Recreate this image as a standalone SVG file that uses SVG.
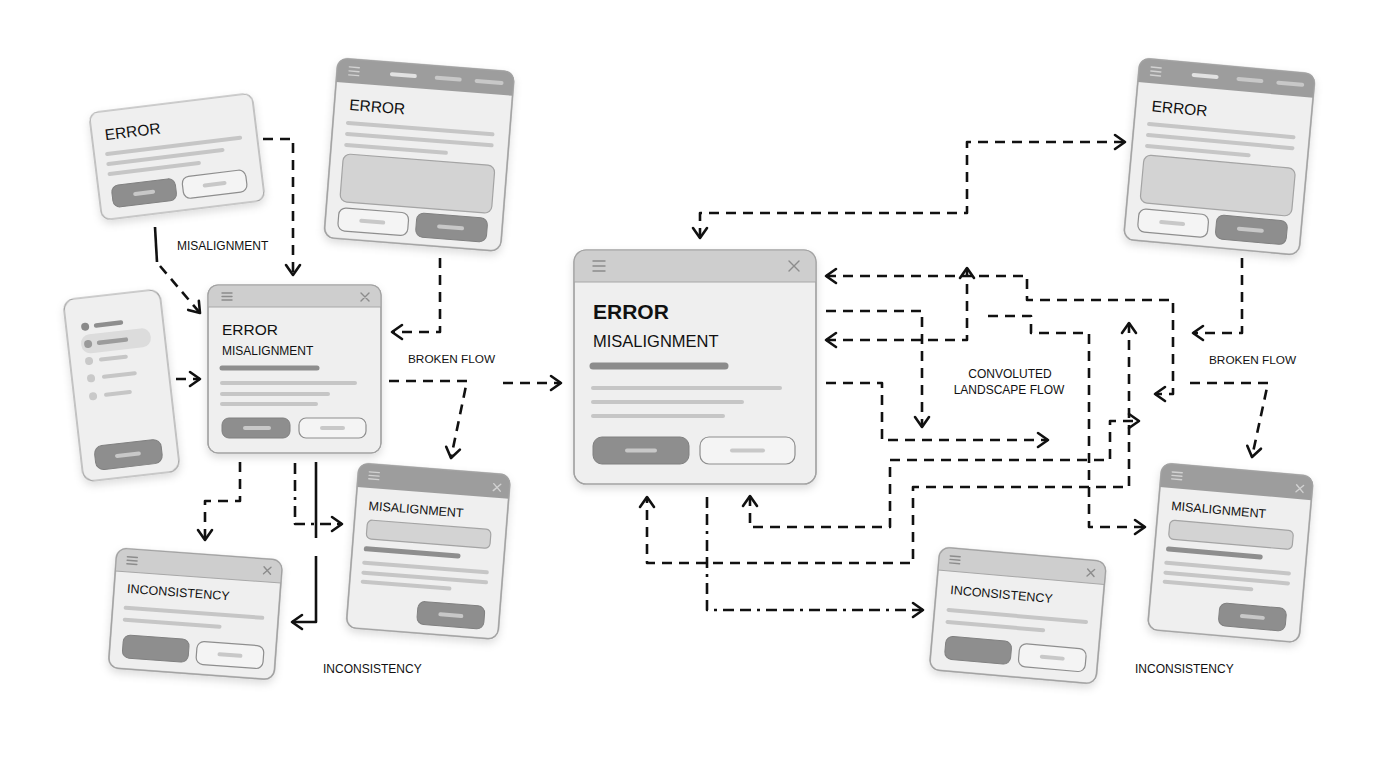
<svg xmlns="http://www.w3.org/2000/svg" width="1376" height="768" viewBox="0 0 1376 768">
<defs>
<style>
.card{fill:#efefef;stroke:#a2a2a2;stroke-width:1.2}
.outl{fill:none;stroke:#a2a2a2;stroke-width:1.2}
.hdrL{fill:#cecece}
.hdrD{fill:#9d9d9d}
.hsep{stroke:#a8a8a8;stroke-width:1}
.ln{stroke:#c6c6c6;stroke-width:4;stroke-linecap:round}
.lnD{stroke:#8e8e8e;stroke-width:5;stroke-linecap:round}
.btnD{fill:#8e8e8e;stroke:#808080;stroke-width:1}
.btnO{fill:#f4f4f4;stroke:#8e8e8e;stroke-width:1.2}
.pill{stroke:#c8c8c8;stroke-width:4;stroke-linecap:round}
.pillL{stroke:#e2e2e2;stroke-width:4;stroke-linecap:round}
.box{fill:#d3d3d3;stroke:#a4a4a4;stroke-width:1.2}
.ico{stroke:#8c8c8c;stroke-width:1.4;stroke-linecap:round;fill:none}
.icoL{stroke:#d2d2d2;stroke-width:1.4;stroke-linecap:round;fill:none}
.t{font-family:"Liberation Sans",Arial,sans-serif;fill:#111}
.conn{fill:none;stroke:#111;stroke-width:2.6;stroke-dasharray:10 7;stroke-linejoin:round}
.dd{stroke-dasharray:11 6 11 6 3 6}
.solid{stroke-dasharray:none}
</style>
<filter id="sh" x="-20%" y="-20%" width="140%" height="150%">
<feDropShadow dx="0" dy="4" stdDeviation="4" flood-color="#000" flood-opacity="0.14"/>
</filter>
<marker id="ah" viewBox="-13 -9 15 18" markerWidth="15" markerHeight="18" refX="0" refY="0" orient="auto-start-reverse" markerUnits="userSpaceOnUse">
<path d="M-10,-7 L0,0 L-10,7" fill="none" stroke="#111" stroke-width="2.6" stroke-linecap="round" stroke-linejoin="round"/>
</marker>
</defs>
<rect width="1376" height="768" fill="#ffffff"/>

<!-- Node 1: ERROR card -->
<g id="n1" transform="translate(89,113) rotate(-7)">
<rect class="card" width="164" height="108" rx="9" filter="url(#sh)"/>
<text class="t" x="13" y="29" font-size="15.5">ERROR</text>
<line class="ln" x1="13" y1="43" x2="147" y2="43"/>
<line class="ln" x1="13" y1="53" x2="128" y2="53"/>
<line class="ln" x1="13" y1="63" x2="103" y2="63"/>
<rect class="btnD" x="13" y="75" width="64" height="22" rx="7"/>
<line class="pill" x1="36" y1="86" x2="54" y2="86"/>
<rect class="btnO" x="84" y="75" width="64" height="22" rx="7"/>
<line class="pill" x1="106" y1="86" x2="126" y2="86"/>
</g>

<!-- Node 2: tall ERROR page -->
<g id="n2" transform="translate(338,58) rotate(4.5)">
<rect class="card" width="177" height="180" rx="10" filter="url(#sh)"/>
<path class="hdrD" d="M0,24 V10 Q0,0 10,0 H167 Q177,0 177,10 V24 Z"/>
<g class="icoL"><line x1="12" y1="8" x2="22" y2="8"/><line x1="12" y1="12" x2="22" y2="12"/><line x1="12" y1="16" x2="22" y2="16"/></g>
<line class="pillL" x1="55" y1="12" x2="78" y2="12"/>
<line class="pill" x1="100" y1="12" x2="123" y2="12"/>
<line class="pill" x1="140" y1="12" x2="165" y2="12"/>
<rect class="outl" width="177" height="180" rx="10"/>
<text class="t" x="15" y="51" font-size="15.5">ERROR</text>
<line class="ln" x1="15" y1="64" x2="160" y2="64"/>
<line class="ln" x1="15" y1="75" x2="160" y2="75"/>
<line class="ln" x1="15" y1="86" x2="115" y2="86"/>
<rect class="box" x="13" y="95" width="152" height="48" rx="7"/>
<rect class="btnO" x="13" y="149" width="70" height="23" rx="7"/>
<line class="pill" x1="36" y1="160.5" x2="58" y2="160.5"/>
<rect class="btnD" x="91" y="148" width="71" height="24" rx="7"/>
<line class="pill" x1="114" y1="160" x2="137" y2="160"/>
</g>

<!-- Node 3: phone -->
<g id="n3" transform="translate(63,300) rotate(-6.5)">
<rect class="card" width="97" height="183" rx="11" filter="url(#sh)"/>
<rect x="13" y="37" width="70" height="19" rx="9" fill="#dcdcdc"/>
<circle cx="19" cy="29" r="4" fill="#8a8a8a"/>
<circle cx="20" cy="46.5" r="4" fill="#9a9a9a"/>
<circle cx="19" cy="63.5" r="4" fill="#c9c9c9"/>
<circle cx="19" cy="81" r="4" fill="#c9c9c9"/>
<circle cx="19" cy="99" r="4" fill="#c9c9c9"/>
<line x1="30" y1="29" x2="55" y2="29" stroke="#8e8e8e" stroke-width="4.5" stroke-linecap="round"/>
<line x1="31" y1="46.5" x2="58" y2="46.5" stroke="#9c9c9c" stroke-width="4.5" stroke-linecap="round"/>
<line class="ln" x1="31" y1="63.5" x2="56" y2="63.5"/>
<line class="ln" x1="32" y1="81" x2="63" y2="81"/>
<line class="ln" x1="32" y1="99" x2="56" y2="99"/>
<rect class="btnD" x="14" y="149" width="67" height="24" rx="8"/>
<line class="pill" x1="36" y1="161" x2="58" y2="161"/>
</g>

<!-- Node 4: ERROR / MISALIGNMENT window -->
<g id="n4" transform="translate(208,285)">
<rect class="card" width="173" height="168" rx="10" filter="url(#sh)"/>
<path class="hdrL" d="M0,22 V10 Q0,0 10,0 H163 Q173,0 173,10 V22 Z"/>
<line class="hsep" x1="0" y1="22" x2="173" y2="22"/>
<g class="ico"><line x1="14" y1="8" x2="24" y2="8"/><line x1="14" y1="11.5" x2="24" y2="11.5"/><line x1="14" y1="15" x2="24" y2="15"/><path d="M153,8 L161,16 M161,8 L153,16"/></g>
<rect class="outl" width="173" height="168" rx="10"/>
<text class="t" x="14" y="50" font-size="15.5" font-weight="500">ERROR</text>
<text class="t" x="14" y="70" font-size="12">MISALIGNMENT</text>
<line class="lnD" x1="14" y1="83" x2="109" y2="83"/>
<line class="ln" x1="14" y1="98" x2="147" y2="98"/>
<line class="ln" x1="14" y1="109" x2="120" y2="109"/>
<line class="ln" x1="14" y1="119" x2="108" y2="119"/>
<rect class="btnD" x="14" y="133" width="68" height="20" rx="7"/>
<line class="pill" x1="37" y1="143" x2="61" y2="143"/>
<rect class="btnO" x="91" y="133" width="67" height="20" rx="7"/>
<line class="pill" x1="114" y1="143" x2="135" y2="143"/>
</g>

<!-- Node 5: MISALIGNMENT window (left) -->
<g id="n5" transform="translate(359,463) rotate(4.5)">
<rect class="card" width="152" height="165" rx="10" filter="url(#sh)"/>
<path class="hdrD" d="M0,24 V10 Q0,0 10,0 H142 Q152,0 152,10 V24 Z"/>
<g class="icoL"><line x1="11" y1="8" x2="21" y2="8"/><line x1="11" y1="11.5" x2="21" y2="11.5"/><line x1="11" y1="15" x2="21" y2="15"/><path d="M136,10 L143,17 M143,10 L136,17"/></g>
<rect class="outl" width="152" height="165" rx="10"/>
<text class="t" x="13" y="46" font-size="12.5">MISALIGNMENT</text>
<rect class="box" x="13" y="56" width="124" height="19" rx="5"/>
<line class="lnD" x1="14" y1="85" x2="106" y2="85"/>
<line class="ln" x1="13" y1="99" x2="136" y2="99"/>
<line class="ln" x1="13" y1="109" x2="136" y2="109"/>
<line class="ln" x1="13" y1="118" x2="100" y2="118"/>
<rect class="btnD" x="70" y="133" width="67" height="23" rx="7"/>
<line class="pill" x1="93" y1="144.5" x2="114" y2="144.5"/>
</g>

<!-- Node 6: INCONSISTENCY window (left) -->
<g id="n6" transform="translate(117,548) rotate(4.2)">
<rect class="card" width="166" height="120" rx="10" filter="url(#sh)"/>
<path class="hdrL" d="M0,23 V10 Q0,0 10,0 H156 Q166,0 166,10 V23 Z"/>
<line class="hsep" x1="0" y1="23" x2="166" y2="23"/>
<g class="ico"><line x1="11" y1="8" x2="21" y2="8"/><line x1="11" y1="11.5" x2="21" y2="11.5"/><line x1="11" y1="15" x2="21" y2="15"/><path d="M148,8 L155,15 M155,8 L148,15"/></g>
<rect class="outl" width="166" height="120" rx="10"/>
<text class="t" x="13" y="44" font-size="12.5">INCONSISTENCY</text>
<line class="ln" x1="13" y1="59" x2="150" y2="59"/>
<line class="ln" x1="13" y1="71" x2="108" y2="71"/>
<rect class="btnD" x="13" y="86" width="66" height="23" rx="7"/>
<rect class="btnO" x="87" y="87" width="67" height="23" rx="7"/>
<line class="pill" x1="110" y1="98.5" x2="131" y2="98.5"/>
</g>

<!-- Node 7: central window -->
<g id="n7" transform="translate(574,250)">
<rect class="card" width="242" height="234" rx="12" filter="url(#sh)"/>
<path class="hdrL" d="M0,32 V12 Q0,0 12,0 H230 Q242,0 242,12 V32 Z"/>
<line class="hsep" x1="0" y1="32" x2="242" y2="32"/>
<g class="ico" stroke-width="1.6"><line x1="19" y1="11" x2="31" y2="11"/><line x1="19" y1="16" x2="31" y2="16"/><line x1="19" y1="21" x2="31" y2="21"/><path d="M215,11 L225,21 M225,11 L215,21"/></g>
<rect class="outl" width="242" height="234" rx="12"/>
<text class="t" x="19" y="69" font-size="21" font-weight="bold">ERROR</text>
<text class="t" x="19" y="97" font-size="16.5">MISALIGNMENT</text>
<line x1="19" y1="116" x2="151" y2="116" stroke="#8c8c8c" stroke-width="7" stroke-linecap="round"/>
<line class="ln" x1="19" y1="138" x2="206" y2="138" stroke-width="6"/>
<line class="ln" x1="19" y1="152" x2="168" y2="152" stroke-width="6"/>
<line class="ln" x1="19" y1="166" x2="149" y2="166" stroke-width="6"/>
<rect class="btnD" x="19" y="187" width="96" height="27" rx="9"/>
<line class="pill" x1="53" y1="200.5" x2="81" y2="200.5" stroke-width="5"/>
<rect class="btnO" x="126" y="187" width="95" height="27" rx="9"/>
<line class="pill" x1="158" y1="200.5" x2="189" y2="200.5" stroke-width="5"/>
</g>

<!-- Node 8: tall ERROR page (right) -->
<g id="n8" transform="translate(1140,58) rotate(5.2)">
<rect class="card" width="176" height="182" rx="10" filter="url(#sh)"/>
<path class="hdrD" d="M0,24 V10 Q0,0 10,0 H166 Q176,0 176,10 V24 Z"/>
<g class="icoL"><line x1="12" y1="8" x2="22" y2="8"/><line x1="12" y1="12" x2="22" y2="12"/><line x1="12" y1="16" x2="22" y2="16"/></g>
<line class="pillL" x1="55" y1="12" x2="78" y2="12"/>
<line class="pill" x1="100" y1="12" x2="123" y2="12"/>
<line class="pill" x1="140" y1="12" x2="164" y2="12"/>
<rect class="outl" width="176" height="182" rx="10"/>
<text class="t" x="16" y="52" font-size="15.5">ERROR</text>
<line class="ln" x1="15" y1="65" x2="160" y2="65"/>
<line class="ln" x1="15" y1="76" x2="160" y2="76"/>
<line class="ln" x1="15" y1="87" x2="117" y2="87"/>
<rect class="box" x="13" y="96" width="152" height="48" rx="7"/>
<rect class="btnO" x="13" y="150" width="70" height="23" rx="7"/>
<line class="pill" x1="36" y1="161.5" x2="58" y2="161.5"/>
<rect class="btnD" x="91" y="149" width="71" height="24" rx="7"/>
<line class="pill" x1="114" y1="161" x2="137" y2="161"/>
</g>

<!-- Node 9: MISALIGNMENT window (right) -->
<g id="n9" transform="translate(1162,463) rotate(5)">
<rect class="card" width="152" height="167" rx="10" filter="url(#sh)"/>
<path class="hdrD" d="M0,24 V10 Q0,0 10,0 H142 Q152,0 152,10 V24 Z"/>
<g class="icoL"><line x1="11" y1="8" x2="21" y2="8"/><line x1="11" y1="11.5" x2="21" y2="11.5"/><line x1="11" y1="15" x2="21" y2="15"/><path d="M136,10 L143,17 M143,10 L136,17"/></g>
<rect class="outl" width="152" height="167" rx="10"/>
<text class="t" x="13" y="46" font-size="12.5">MISALIGNMENT</text>
<rect class="box" x="13" y="56" width="124" height="19" rx="5"/>
<line class="lnD" x1="14" y1="85" x2="106" y2="85"/>
<line class="ln" x1="13" y1="99" x2="136" y2="99"/>
<line class="ln" x1="13" y1="109" x2="136" y2="109"/>
<line class="ln" x1="13" y1="118" x2="100" y2="118"/>
<rect class="btnD" x="70" y="134" width="67" height="23" rx="7"/>
<line class="pill" x1="93" y1="145.5" x2="114" y2="145.5"/>
</g>

<!-- Node 10: INCONSISTENCY window (bottom centre) -->
<g id="n10" transform="translate(940,547) rotate(5)">
<rect class="card" width="167" height="123" rx="10" filter="url(#sh)"/>
<path class="hdrL" d="M0,23 V10 Q0,0 10,0 H157 Q167,0 167,10 V23 Z"/>
<line class="hsep" x1="0" y1="23" x2="167" y2="23"/>
<g class="ico"><line x1="11" y1="8" x2="21" y2="8"/><line x1="11" y1="11.5" x2="21" y2="11.5"/><line x1="11" y1="15" x2="21" y2="15"/><path d="M149,9 L156,16 M156,9 L149,16"/></g>
<rect class="outl" width="167" height="123" rx="10"/>
<text class="t" x="14" y="46" font-size="12.5">INCONSISTENCY</text>
<line class="ln" x1="14" y1="62" x2="152" y2="62"/>
<line class="ln" x1="14" y1="74" x2="110" y2="74"/>
<rect class="btnD" x="14" y="88" width="66" height="23" rx="7"/>
<rect class="btnO" x="88" y="89" width="67" height="23" rx="7"/>
<line class="pill" x1="111" y1="100.5" x2="132" y2="100.5"/>
</g>

<!-- Labels -->
<g id="labels" class="t">
<text x="177" y="250" font-size="12">MISALIGNMENT</text>
<text x="408" y="363" font-size="11.8">BROKEN FLOW</text>
<text x="323" y="673" font-size="12">INCONSISTENCY</text>
<text x="1010" y="378" font-size="12" text-anchor="middle">CONVOLUTED</text>
<text x="1009" y="394" font-size="12" text-anchor="middle">LANDSCAPE FLOW</text>
<text x="1209" y="364" font-size="11.8">BROKEN FLOW</text>
<text x="1135" y="673" font-size="12">INCONSISTENCY</text>
</g>

<!-- Connectors -->
<g id="connectors">
<path class="conn" d="M263,139 H293 V275" marker-end="url(#ah)"/>
<path class="conn solid" d="M155,227 L157,262"/>
<path class="conn" d="M160,266 L200,313" marker-end="url(#ah)"/>
<path class="conn" d="M440,258 V332 H392" marker-end="url(#ah)"/>
<path class="conn" d="M176,379 H200" marker-end="url(#ah)"/>
<path class="conn" d="M389,381 H467 L451,458" marker-end="url(#ah)"/>
<path class="conn" d="M503,383 H561" marker-end="url(#ah)"/>
<path class="conn" d="M240,462 V501 H205 V540" marker-end="url(#ah)"/>
<path class="conn dd" d="M295,463 V524 H342" marker-end="url(#ah)"/>
<path class="conn solid" d="M316,462 V538"/>
<path class="conn solid" d="M316,556 V622 H292" marker-end="url(#ah)"/>

<path class="conn" d="M700,238 V213 H967 V142 H1125" marker-start="url(#ah)" marker-end="url(#ah)"/>
<path class="conn" d="M826,276 H1027 V300 H1173 V394 H1155" marker-start="url(#ah)" marker-end="url(#ah)"/>
<path class="conn" d="M826,340 H967 V268" marker-start="url(#ah)" marker-end="url(#ah)"/>
<path class="conn" d="M826,311 H922 V427" marker-end="url(#ah)"/>
<path class="conn" d="M826,383 H882 V440 H1048" marker-end="url(#ah)"/>
<path class="conn" d="M988,316 H1031 V333 H1089 V527 H1145" marker-end="url(#ah)"/>
<path class="conn" d="M1129,323 V487 H913 V563 H647 V497" marker-start="url(#ah)" marker-end="url(#ah)"/>
<path class="conn" d="M750,496 V527 H890 V460 H1110 V421 H1139" marker-start="url(#ah)" marker-end="url(#ah)"/>
<path class="conn dd" d="M707,497 V610 H923" marker-end="url(#ah)"/>

<path class="conn" d="M1242,258 V333 H1193" marker-end="url(#ah)"/>
<path class="conn" d="M1190,383 H1268 L1252,457" marker-end="url(#ah)"/>
</g>
</svg>
